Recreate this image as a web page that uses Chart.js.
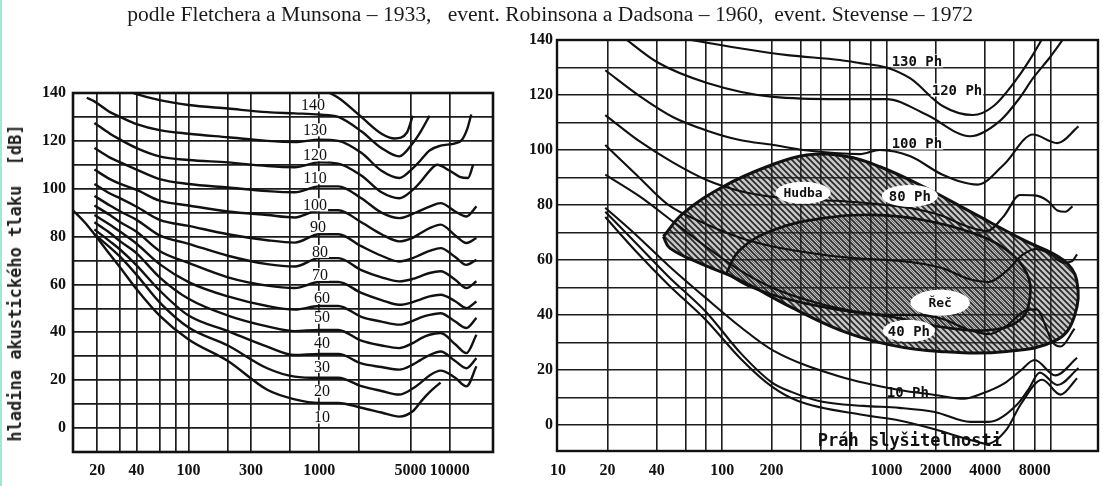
<!DOCTYPE html>
<html><head><meta charset="utf-8">
<script src="https://cdn.jsdelivr.net/npm/chart.js@4.4.1/dist/chart.umd.min.js"></script>
<style>
html,body{margin:0;padding:0;background:#fff;}
body{width:1103px;height:486px;position:relative;overflow:hidden;}
#edge{position:absolute;left:0;top:0;width:2px;height:486px;background:#a9e4d6;}
#title{position:absolute;left:0;top:3px;font:20px "Liberation Serif",serif;color:#1a1a1a;white-space:pre;transform-origin:center center;}
#ytitle{position:absolute;left:15px;top:283px;transform:translate(-50%,-50%) rotate(-90deg);font:bold 17px "DejaVu Sans Mono",monospace;color:#222;white-space:pre;}
#cl{position:absolute;left:0;top:0;}
#cr{position:absolute;left:500px;top:0;}
</style></head><body>
<div id="edge"></div>
<canvas id="cl" width="505" height="486"></canvas>
<canvas id="cr" width="603" height="486"></canvas>
<span id="title"></span>
<div id="ytitle"></div>
<script>
// ---------- texts ----------
const TITLE = "podle Fletchera a Munsona – 1933,   event. Robinsona a Dadsona – 1960,  event. Stevense – 1972";
const Y_TITLE = "hladina akustického tlaku  [dB]";

// ---------- left panel (Fletcher–Munson) ----------
const L_GRID_F = [20,30,40,60,80,100,200,300,600,1000,2000,5000,10000];
const L_TICK_LABELS = [20,40,100,300,1000,5000,10000];
const Y_TICKS = [0,10,20,30,40,50,60,70,80,90,100,110,120,130,140];
const Y_TICK_LABELS = [0,20,40,60,80,100,120,140];
const L_PHON = [10,20,30,40,50,60,70,80,90,100,110,120,130,140];
const L_LABEL_F = [1050,1050,1050,1050,1050,1050,1014,1014,980,930,930,930,930,897];
const L_LABEL_DB = [4.6,15.4,25.8,35.8,46.3,54.6,64.2,73.8,84.2,93.3,104.6,114.2,124.6,135];

const L10 = [[13,91],[16,86],[19,81],[25,72.5],[30,67],[40,58],[60,47],[100,37],[200,28],[400,16],[650,12],[1000,10.5],[1400,10.5],[2100,8.5],[3000,6.5],[4100,4.8],[5200,7],[6000,11],[7000,15],[8500,19]];
const L20 = [[19,81],[25,75.5],[30,71.5],[40,64],[60,52.5],[100,42],[200,34.5],[400,25],[650,21.5],[1000,21],[1400,21],[2100,17.5],[3000,15.5],[4100,14],[5200,16.5],[6000,19],[7000,22],[8500,24],[11000,21],[13400,17.4],[16000,25.8]];
const L30 = [[19,83],[25,78],[30,74.5],[40,68],[60,57.5],[100,47],[200,40.5],[400,34],[650,30.5],[1000,31],[1400,31],[2100,27],[3000,25.5],[4100,24.4],[5200,26.5],[6000,28.5],[7000,30.5],[8500,32],[11000,28],[13400,25],[16000,29.2]];
const L40 = [[19,86],[25,81.5],[30,78],[40,73],[60,63],[100,54],[200,47],[400,42.5],[650,40.5],[1000,41],[1400,41],[2100,36.5],[3000,34.5],[4100,33.4],[5200,35.5],[6000,37.5],[7000,39],[8500,39.7],[11000,35],[13400,31.3],[16000,39]];
const L50 = [[19,89],[25,85],[30,82],[40,77],[60,68.5],[100,61],[200,55],[400,51],[650,49.5],[1000,51],[1400,51],[2100,46.5],[3000,44.5],[4100,43.2],[5200,44.8],[6000,46.2],[7000,47.3],[8500,48],[11000,44.5],[13400,41.8],[16000,46]];
const L60 = [[19,93],[25,89],[30,86],[40,82],[60,74],[100,69],[200,63],[400,59.5],[650,58.5],[1000,61],[1400,61],[2100,56.5],[3000,53.5],[4100,51.5],[5200,52.6],[6000,53.8],[7000,55],[8500,55.7],[11000,53],[13400,50.1],[16000,52.9]];
const L70 = [[19,97],[25,93],[30,90.5],[40,87],[60,80.5],[100,77],[200,72],[400,68.5],[650,67.5],[1000,71],[1400,71],[2100,66],[3000,63],[4100,61.3],[5200,62.3],[6000,63.5],[7000,64.8],[8500,65.5],[11000,62],[13400,58.5],[16000,61.3]];
const L80 = [[19,102],[25,98],[30,96],[40,92.5],[60,87],[100,84.5],[200,81],[400,78.5],[650,77.5],[1000,81],[1400,81],[2100,76],[3000,72],[4100,69.6],[5200,71],[6000,72.5],[7000,74],[8500,75.2],[11000,71.5],[13400,68.2],[16000,70.3]];
const L90 = [[19,108],[25,104],[30,102],[40,99.5],[60,95],[100,93],[200,90.5],[400,89],[650,88],[1000,91],[1400,91],[2100,86],[3000,81],[4100,78],[5200,79.5],[6000,81.5],[7000,83.5],[8500,85],[11000,80.5],[13400,77.3],[16000,79.4]];
const L100 = [[19,117],[25,113],[30,111],[40,108],[60,104],[100,102],[200,100.5],[400,99],[650,98.5],[1000,101],[1400,101],[2100,96],[3000,90],[4100,87.7],[5200,89.5],[6000,91],[7000,92.5],[8500,94],[11000,90.5],[13400,88.4],[16000,92.6]];
const L110 = [[19,127.5],[25,123],[30,120.5],[40,117],[60,113.5],[100,112],[200,111],[400,109.5],[650,109],[1000,111],[1400,110.5],[2100,105.5],[3000,98.5],[4100,96],[5200,99.5],[6000,103],[7000,107.5],[8000,110],[10000,107.5],[11900,105],[13800,104.5],[15100,110]];
const L120 = [[16.6,138],[19,136.5],[25,132],[30,130],[40,127],[60,124.5],[100,123],[200,121.5],[400,120],[650,119.5],[1000,120.5],[1400,120],[2100,115],[3000,107.5],[4100,104.5],[5200,108.5],[6000,112],[7000,116],[8500,118],[11000,119],[12400,120.5],[13600,125],[14600,131]];
const L130 = [[30,142],[40,139.5],[60,137],[100,135],[200,133.5],[400,132],[650,131.5],[1000,131],[1400,130],[2100,124],[3000,117],[4100,113.5],[5200,119],[6000,124],[7000,130.5]];
const L140 = [[1000,142],[1400,138],[2100,130],[3000,123],[3800,121],[4700,123.5],[5200,130.5]];

// ---------- right panel (Robinson–Dadson) ----------
const R_GRID_F = [20,40,60,80,100,200,300,400,600,800,1000,2000,4000,6000,8000,10000];
const R_TICK_LABELS = [10,20,40,100,200,1000,2000,4000,8000];

const R130 = [[52,141],[128,137],[250,134.5],[520,132.7],[690,131.6],[1000,130],[1400,126],[2200,116],[3360,112.7],[4500,116],[6250,126],[7780,134.5],[9000,141]];
const R120 = [[25,141],[40,132],[81,124.4],[205,119.3],[525,118.5],[1000,118.5],[1760,112.8],[3230,105],[4900,110.5],[6500,119],[7800,126],[10000,134],[12000,140.5]];
const R100 = [[19.4,129],[31.6,119.5],[50,112],[81,107],[128,103.6],[205,101.8],[311,100],[690,98.5],[910,100],[1400,97.7],[2200,91],[3600,87.4],[5200,94.7],[7800,105.6],[11000,102.5],[14800,108.6]];
const R80 = [[19.4,112.7],[31.6,103],[50,95.5],[81,89],[130,85],[200,83],[300,82],[500,81.5],[1000,80],[1500,78.5],[2200,76],[3000,72.5],[4100,70.5],[5200,76],[6500,83.6],[8000,83.5],[9600,81.5],[11000,78],[12300,77.5],[13600,79.5]];
const R60 = [[19.4,101.8],[30,91],[47,80],[80,73],[130,68],[200,65],[400,62],[700,60.5],[1000,60],[1500,59],[2200,57],[3200,53],[4200,52],[5400,56],[6800,62],[8200,64],[10000,62],[12000,59],[13500,59.5],[14500,62]];
const R40 = [[19.4,91],[31.6,83],[50,74],[81,64.5],[130,56],[200,50],[400,44],[700,41],[1000,40],[1500,40],[2200,38.5],[3200,34.5],[4200,33],[5400,36],[7000,41.5],[8200,42],[10300,30],[11500,28.5],[14000,35]];
const R10 = [[19.4,79],[30,69],[47,58],[80,46],[130,35.5],[205,27],[525,17.5],[1200,12.7],[1970,10.9],[2970,9.5],[3800,11.3],[5200,15],[6500,19.5],[8000,23.6],[10700,18],[14500,24.4]];
const R_THR_A = [[19.4,77.5],[30,66],[47,54],[80,41],[130,26],[200,15.5],[264,12],[400,8.5],[727,6.9],[1200,6.2],[1970,4.7],[3250,1.1],[4200,1.1],[6300,7.6],[7300,12.7],[8600,19],[11000,14.5],[14800,20.7]];
const R_THR_B = [[19.4,75.6],[30,63],[47,51],[80,38],[130,24],[200,14],[290,8.7],[727,3.6],[1200,1.6],[1970,-1.6],[3250,-5.5],[4100,-6.9],[5400,-1.6],[6600,7.6],[8900,16.4],[11500,11],[14500,17]];

const HUDBA = [[43.8,68.5],[58,77],[101.6,86.7],[187,93.9],[327,98.2],[573,97.6],[914,93.9],[1678,86.7],[3380,77],[6820,67.3],[11950,60],[14420,52.7],[13960,39.4],[10900,30.9],[5400,26.7],[2120,26.7],[1050,29.1],[521,34.5],[259,43],[128,52.7],[73,58.8],[48,64.3],[43.8,68.5]];
const RECH = [[106,55.2],[128,63.6],[205,70.9],[413,75.2],[832,76.4],[1678,74.5],[3380,69.7],[5400,63.6],[7160,55.2],[7500,46.7],[6530,38.2],[4280,34.5],[2120,35.7],[1050,39.4],[521,41.8],[259,45.5],[148,50.3],[106,55.2]];

const R_CURVE_LABELS = ["130 Ph","120 Ph","100 Ph","80 Ph","40 Ph","10 Ph"];
const R_CURVE_LABEL_F = [1535,2692,1535,1390,1372,1352];
const R_CURVE_LABEL_DB = [132.4,121.8,102.5,83.3,34.2,12];
const R_REGION_LABELS = ["Hudba","Řeč"];
const R_REGION_LABEL_F = [311,2125];
const R_REGION_LABEL_DB = [84.4,44.4];
const THR_LABEL = "Práh slyšitelnosti";
const THR_LABEL_F = 1390, THR_LABEL_DB = -5.8;

// ---------- helpers ----------
const toXY = p => p.map(([x,y]) => ({x, y}));
function curve(pairs, w) {
  return { data: toXY(pairs), borderColor: '#111', borderWidth: w, pointRadius: 0,
           fill: false, cubicInterpolationMode: 'monotone', spanGaps: true, order: 1 };
}
function hatch(ctx, size, off, lw, bg, fg) {
  const c = document.createElement('canvas'); c.width = c.height = size;
  const g = c.getContext('2d');
  g.fillStyle = bg; g.fillRect(0, 0, size, size);
  g.strokeStyle = fg; g.lineWidth = lw; g.beginPath();
  for (const o of [-size, 0, size]) { g.moveTo(-1, o + off - 1); g.lineTo(size + 1, o + off + size + 1); }
  g.stroke();
  return ctx.createPattern(c, 'repeat');
}
const frame = { id: 'frame', beforeDatasetsDraw(chart, a, opts) {
  const {ctx, chartArea: r} = chart; ctx.save(); ctx.strokeStyle = '#111'; ctx.lineWidth = opts.w;
  ctx.strokeRect(r.left, r.top, r.right - r.left, r.bottom - r.top); ctx.restore(); } };
const labels = { id: 'labels', afterDatasetsDraw(chart, a, opts) {
  const {ctx, scales: {x, y}} = chart; ctx.save();
  ctx.textAlign = 'center'; ctx.textBaseline = 'middle';
  for (const it of opts.items) {
    const px = x.getPixelForValue(it.f), py = y.getPixelForValue(it.db);
    ctx.font = it.font; const w = ctx.measureText(it.text).width;
    ctx.fillStyle = '#fff';
    if (it.blob) { ctx.beginPath(); ctx.ellipse(px, py, w / 2 + it.blob, it.bh, 0, 0, Math.PI * 2); ctx.fill(); }
    else if (it.bg) { ctx.fillRect(px - w / 2 - 1, py - it.bg / 2, w + 2, it.bg); }
    ctx.fillStyle = '#111'; ctx.fillText(it.text, px, py + 1);
  }
  ctx.restore(); } };

const tickFont = {family: 'Liberation Serif', size: 16, weight: 'bold'};

// ---------- left chart ----------
const L_SERIES = [L10,L20,L30,L40,L50,L60,L70,L80,L90,L100,L110,L120,L130,L140];
const L_TICKS = Array.from(new Set([...L_GRID_F, ...L_TICK_LABELS])).sort((a,b)=>a-b);
new Chart(document.getElementById('cl'), {
  type: 'line',
  data: { datasets: L_SERIES.map(s => curve(s, 2.4)) },
  options: {
    responsive: false, animation: false, events: [],
    layout: { padding: { top: 93, right: 12, bottom: 0, left: 0 } },
    plugins: { legend: { display: false }, tooltip: { enabled: false },
      frame: { w: 2.6 },
      labels: { items: L_PHON.map((p, i) => ({ text: String(p), f: L_LABEL_F[i], db: L_LABEL_DB[i],
        font: '16px "Liberation Serif"', bg: 13 })) } },
    scales: {
      x: { type: 'logarithmic', min: 13.03, max: 21420,
        afterBuildTicks: s => { s.ticks = L_TICKS.map(v => ({value: v})); },
        afterFit: s => { s.height = 34; },
        grid: { color: '#1c1c1c', lineWidth: 1.7, drawTicks: false },
        border: { display: false },
        ticks: { autoSkip: false, maxRotation: 0, padding: 9, color: '#111', font: tickFont,
          callback: v => L_TICK_LABELS.includes(v) ? String(v) : '' } },
      y: { type: 'linear', min: -10, max: 140,
        afterBuildTicks: s => { s.ticks = Y_TICKS.map(v => ({value: v})); },
        afterFit: s => { s.width = 73; },
        grid: { color: '#1c1c1c', lineWidth: 1.7, drawTicks: false },
        border: { display: false },
        ticks: { autoSkip: false, padding: 7, color: '#111', font: tickFont,
          callback: v => Y_TICK_LABELS.includes(v) ? String(v) : '' } }
    }
  },
  plugins: [frame, labels]
});

// ---------- right chart ----------
const crCtx = document.getElementById('cr').getContext('2d');
const patOuter = hatch(crCtx, 6, 0, 1.7, 'rgba(100,100,100,0.36)', 'rgba(15,15,15,0.85)');
const patInner = hatch(crCtx, 6, 3, 0.9, 'rgba(80,80,80,0.04)', 'rgba(30,30,30,0.6)');
const R_TICKS = Array.from(new Set([...R_GRID_F, ...R_TICK_LABELS])).sort((a,b)=>a-b);
const R_SERIES = [R130,R120,R100,R80,R60,R40,R10,R_THR_A,R_THR_B];
const regionDS = (pairs, pat, w, ord) => ({ data: toXY(pairs), borderColor: '#111', borderWidth: w,
  backgroundColor: pat, fill: 'shape', pointRadius: 0, tension: 0.4, order: ord });
const rItems = [
  ...R_CURVE_LABELS.map((t, i) => ({ text: t, f: R_CURVE_LABEL_F[i], db: R_CURVE_LABEL_DB[i],
     font: 'bold 14px "DejaVu Sans Mono"',
     bg: (t === '10 Ph') ? 0 : 13,
     blob: (t === '80 Ph') ? 7 : (t === '40 Ph' ? 5 : 0), bh: 11 })),
  ...R_REGION_LABELS.map((t, i) => ({ text: t, f: R_REGION_LABEL_F[i], db: R_REGION_LABEL_DB[i],
     font: 'bold 13px "DejaVu Sans Mono"', blob: i === 0 ? 8 : 18, bh: i === 0 ? 11 : 13 })),
  { text: THR_LABEL, f: THR_LABEL_F, db: THR_LABEL_DB, font: 'bold 17px "DejaVu Sans Mono"' }
];
new Chart(crCtx, {
  type: 'line',
  data: { datasets: [
    ...R_SERIES.map(s => curve(s, 2.1)),
    regionDS(RECH, patInner, 2.6, 5),
    regionDS(HUDBA, patOuter, 3, 6)
  ] },
  options: {
    responsive: false, animation: false, events: [],
    layout: { padding: { top: 40, right: 5, bottom: 0, left: 0 } },
    plugins: { legend: { display: false }, tooltip: { enabled: false },
      frame: { w: 2.4 }, labels: { items: rItems } },
    scales: {
      x: { type: 'logarithmic', min: 9.86, max: 19450,
        afterBuildTicks: s => { s.ticks = R_TICKS.map(v => ({value: v})); },
        afterFit: s => { s.height = 35; },
        grid: { color: c => R_GRID_F.includes(c.tick && c.tick.value) ? '#1c1c1c' : 'rgba(0,0,0,0)',
                lineWidth: 1.6, drawTicks: false },
        border: { display: false },
        ticks: { autoSkip: false, maxRotation: 0, padding: 10, color: '#111',
          font: {family: 'Liberation Serif', size: 16, weight: 'bold'},
          callback: v => R_TICK_LABELS.includes(v) ? String(v) : '' } },
      y: { type: 'linear', min: -9.5, max: 140,
        afterBuildTicks: s => { s.ticks = Y_TICKS.map(v => ({value: v})); },
        afterFit: s => { s.width = 57; },
        grid: { color: '#1c1c1c', lineWidth: 1.6, drawTicks: false },
        border: { display: false },
        ticks: { autoSkip: false, padding: 4, color: '#111', font: tickFont,
          callback: v => Y_TICK_LABELS.includes(v) ? String(v) : '' } }
    }
  },
  plugins: [frame, labels]
});

// ---------- HTML titles ----------
const t = document.getElementById('title');
t.textContent = TITLE;
const tw = t.getBoundingClientRect().width;
t.style.left = (550 - tw / 2) + 'px';
t.style.transform = 'scaleX(' + (846 / tw) + ')';
document.getElementById('ytitle').textContent = Y_TITLE;
</script>
</body></html>
